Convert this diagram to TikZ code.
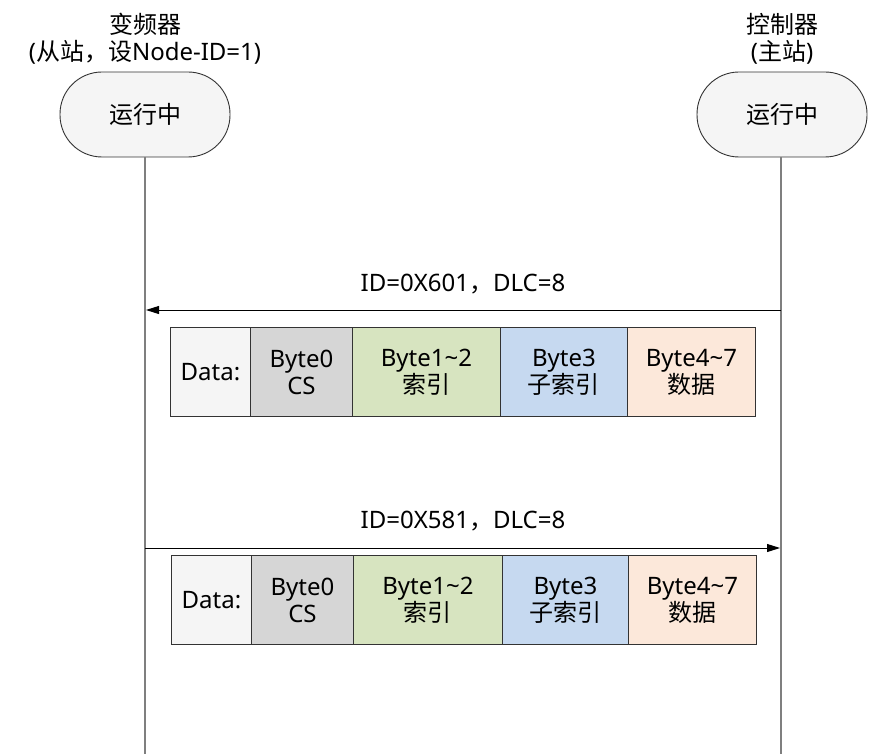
\documentclass[tikz,border=0pt]{standalone}
\usepackage{fontspec}
\setmainfont{Noto Sans}
\newfontfamily\cjk{Noto Sans CJK SC}
\usetikzlibrary{arrows.meta}
\definecolor{lifeg}{HTML}{7F7F7F}
\definecolor{boxline}{HTML}{333333}
\definecolor{cdata}{HTML}{F5F5F5}
\definecolor{cbyte0}{HTML}{D6D6D6}
\definecolor{cgreen}{HTML}{D7E4C0}
\definecolor{cblue}{HTML}{C6D9F0}
\definecolor{corange}{HTML}{FCE8DA}
\tikzset{
  txt/.style={font=\fontsize{24}{27}\selectfont, align=center, inner sep=0pt},
  stadium/.style={draw=boxline, fill=cdata, line width=0.9pt, rounded corners=42pt,
    minimum width=170pt, minimum height=85pt, txt},
  cell/.style={draw=boxline, line width=0.9pt, anchor=north west, minimum height=89pt, txt},
  lifeline/.style={draw=lifeg, line width=1.2pt},
  msg/.style={draw=black, line width=0.9pt, -{Triangle[length=13pt,width=8pt]}},
}
\begin{document}
\begin{tikzpicture}[x=1pt,y=-1pt]
\useasboundingbox (0,0) rectangle (869,754);
% titles
\node[txt] (tl) at (145,39) {{\cjk 变频器}\\({\cjk 从站，设}Node-ID=1)};
\node[txt] (tr) at (782,39) {{\cjk 控制器}\\({\cjk 主站})};
% stadiums
\node[stadium] (sl) at (145,114.5) {\cjk 运行中};
\node[stadium] (sr) at (782,114.5) {\cjk 运行中};
% lifelines
\coordinate (lbot) at (145,754);
\coordinate (rbot) at (781,754);
\draw[lifeline] (sl.south) -- (lbot);
\draw[lifeline] (sr.south -| rbot) -- (rbot);
% message 1
\coordinate (m1r) at (781,310);
\coordinate (m1l) at (146,310);
\draw[msg] (m1r) -- (m1l);
\node[txt] (lab1) at (463,284) {ID=0X601{\cjk ，}DLC=8};
% row 1
\node[cell, fill=cdata, minimum width=80pt] (a0) at (170,327) {Data:};
\node[cell, fill=cbyte0, minimum width=102pt] (a1) at (250,327) {Byte0\\CS};
\node[cell, fill=cgreen, minimum width=148pt] (a2) at (352,327) {Byte1\textasciitilde2\\{\cjk 索引}};
\node[cell, fill=cblue, minimum width=127pt] (a3) at (500,327) {Byte3\\{\cjk 子索引}};
\node[cell, fill=corange, minimum width=128pt] (a4) at (627,327) {Byte4\textasciitilde7\\{\cjk 数据}};
% message 2
\coordinate (m2l) at (145,548);
\coordinate (m2r) at (780,548);
\draw[msg] (m2l) -- (m2r);
\node[txt] (lab2) at (463,521) {ID=0X581{\cjk ，}DLC=8};
% row 2
\node[cell, fill=cdata, minimum width=80pt] (b0) at (171,555) {Data:};
\node[cell, fill=cbyte0, minimum width=102pt] (b1) at (251,555) {Byte0\\CS};
\node[cell, fill=cgreen, minimum width=149pt] (b2) at (353,555) {Byte1\textasciitilde2\\{\cjk 索引}};
\node[cell, fill=cblue, minimum width=126pt] (b3) at (502,555) {Byte3\\{\cjk 子索引}};
\node[cell, fill=corange, minimum width=128pt] (b4) at (628,555) {Byte4\textasciitilde7\\{\cjk 数据}};
\end{tikzpicture}
\end{document}
